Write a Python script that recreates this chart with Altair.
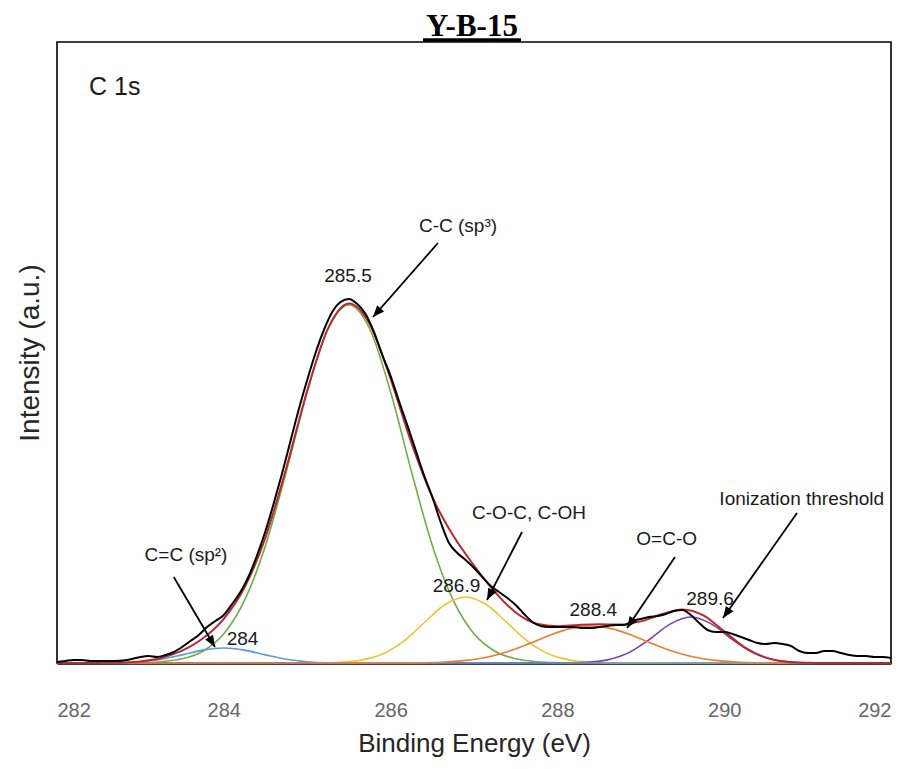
import math
import altair as alt
import pandas as pd

# ---------------- axes ----------------
X_DOMAIN = [282, 292]
Y_DOMAIN = [0, 621]
x_ticks = [282, 284, 286, 288, 290, 292]
W, H = 834, 621

# ---------------- measured spectrum (black) ----------------
raw_x = [round(282 + 0.1 * i, 1) for i in range(101)]
raw_y = [1, 2, 3, 3, 2, 2, 2, 2, 2.5, 4,
         6, 7, 6, 8, 11, 16, 22, 28, 36, 42,
         48, 59, 71, 87, 108, 132, 160, 190, 222, 254,
         283, 310, 333, 351, 361, 364, 359, 349, 331, 308,
         287, 262, 238, 213, 188, 166, 141, 120, 110, 103,
         95, 86, 77, 71, 65, 58, 49, 41, 37, 36,
         36, 36, 36, 35, 35, 36, 37, 38, 38, 42,
         44, 46, 47, 49, 52, 53, 48, 40, 33, 31,
         31, 29, 26, 23, 20, 19, 20, 19, 17, 12,
         10, 10, 12, 12, 10, 8, 7, 7, 6, 6, 5]

# ---------------- fitted envelope (red) ----------------
env_x = [282.0, 282.25, 282.5, 282.75, 283.0, 283.25, 283.5, 283.75, 284.0, 284.25,
         284.5, 284.75, 285.0, 285.25, 285.5, 285.75, 286.0, 286.25, 286.5, 286.75,
         287.0, 287.25, 287.5, 287.75, 288.0, 288.25, 288.5, 288.75, 289.0, 289.25,
         289.5, 289.75, 290.0, 290.25, 290.5, 290.75, 291.0, 291.25, 291.5, 291.75, 292.0]
env_y = [0, 0, 0.1, 0.3, 1.6, 5.0, 12.3, 24.7, 44.2, 75.7,
         125.7, 195.2, 272.3, 334.6, 359.4, 338.7, 284.1, 220.1, 166.0, 127.4,
         97.5, 71.2, 50.5, 39.3, 36.8, 38.0, 38.7, 38.5, 41.6, 48.7,
         53.6, 47.6, 31.7, 15.3, 5.4, 1.3, 0.2, 0, 0, 0, 0]

# ---------------- fitted components ----------------
blue_x = [282.0, 282.5, 282.75, 283.0, 283.25, 283.5, 283.75, 284.0, 284.25, 284.5,
          284.75, 285.0, 285.25, 285.5, 292.0]
blue_y = [0, 0.1, 0.3, 1.3, 3.7, 8.1, 12.9, 15, 12.9, 8.1, 3.7, 1.3, 0.3, 0.1, 0]

green_x = [282.0, 282.75, 283.0, 283.25, 283.5, 283.75, 284.0, 284.25, 284.5, 284.75,
           285.0, 285.25, 285.5, 285.75, 286.0, 286.25, 286.5, 286.75, 287.0, 287.25,
           287.5, 287.75, 288.0, 288.25, 292.0]
green_y = [0, 0, 0.3, 1.3, 4.2, 11.8, 29.2, 62.8, 117.6, 191.5,
           271, 334, 358, 334, 271, 191.5, 117.6, 62.8, 29.2, 11.8,
           4.2, 1.3, 0.3, 0, 0]

yellow_x = [282.0, 285.15, 285.4, 285.65, 285.9, 286.15, 286.4, 286.65, 286.9, 287.15,
            287.4, 287.65, 287.9, 288.15, 288.4, 288.65, 292.0]
yellow_y = [0, 0.1, 0.7, 2.9, 8.9, 21.4, 40.0, 58.2, 66, 58.2,
            40.0, 21.4, 8.9, 2.9, 0.7, 0.1, 0]

orange_x = [282.0, 286.15, 286.4, 286.65, 286.9, 287.15, 287.4, 287.65, 287.9, 288.15,
            288.4, 288.65, 288.9, 289.15, 289.4, 289.65, 289.9, 290.15, 290.4, 290.65, 292.0]
orange_y = [0, 0.1, 0.3, 1.0, 2.6, 5.8, 11.3, 19.0, 27.5, 34.4,
            37, 34.4, 27.5, 19.0, 11.3, 5.8, 2.6, 1.0, 0.3, 0.1, 0]

purple_x = [282.0, 288.1, 288.35, 288.6, 288.85, 289.1, 289.35, 289.6, 289.85, 290.1,
            290.35, 290.6, 290.85, 291.1, 292.0]
purple_y = [0, 0.1, 0.7, 3.1, 10.1, 23.4, 38.9, 46, 38.9, 23.4, 10.1, 3.1, 0.7, 0.1, 0]

series_names = ["C=C", "C-C", "C-O-C", "O=C-O", "289.6", "envelope", "raw"]
series_colors = ["#5B9BD5", "#70AD47", "#F2C234", "#ED7D31", "#7B3FB0", "#B7282E", "#000000"]

# ---------------- annotations ----------------
label_text = ["C-C (sp³)", "285.5", "C=C (sp²)", "284", "C-O-C, C-OH", "286.9",
              "O=C-O", "288.4", "Ionization threshold", "289.6"]
label_x = [286.808, 285.489, 283.547, 284.224, 287.66, 286.79, 289.31, 288.43, 290.93, 289.83]
label_y = [431, 381, 102, 18, 144, 71, 118, 47, 158, 58]

arrow_x1 = [286.568, 283.400, 287.576, 289.410, 290.873]
arrow_y1 = [420, 86, 131, 106, 150]
arrow_x2 = [285.789, 283.894, 287.156, 288.835, 289.986]
arrow_y2 = [346, 16, 63, 35, 45]

title_text = "Y-B-15"
title_x, title_y = 286.976, 627
underline_x = [286.389, 287.564]
underline_y = 623
panel_text = "C 1s"
panel_x, panel_y = 282.384, 568

# ---------------- build tables ----------------
frames = []
for name, xs_, ys_ in [("C-C", green_x, green_y), ("C-O-C", yellow_x, yellow_y),
                       ("289.6", purple_x, purple_y), ("C=C", blue_x, blue_y),
                       ("O=C-O", orange_x, orange_y)]:
    frames.append(pd.DataFrame({"x": xs_, "y": ys_, "series": name}))
comp_df = pd.concat(frames, ignore_index=True)
env_df = pd.DataFrame({"x": env_x, "y": env_y, "series": "envelope"})
raw_df = pd.DataFrame({"x": raw_x, "y": raw_y, "series": "raw"})

px_per_x = W / (X_DOMAIN[1] - X_DOMAIN[0])
px_per_y = H / (Y_DOMAIN[1] - Y_DOMAIN[0])
angles = []
for a, b, c, d in zip(arrow_x1, arrow_y1, arrow_x2, arrow_y2):
    dx = (c - a) * px_per_x
    dy = -(d - b) * px_per_y
    angles.append(math.degrees(math.atan2(dx, -dy)) % 360)
arrow_df = pd.DataFrame({"x1": arrow_x1, "y1": arrow_y1, "x2": arrow_x2,
                         "y2": arrow_y2, "angle": angles})
label_df = pd.DataFrame({"x": label_x, "y": label_y, "label": label_text})
title_df = pd.DataFrame({"x": [title_x], "y": [title_y], "label": [title_text]})
uline_df = pd.DataFrame({"x": [underline_x[0]], "x2": [underline_x[1]], "y": [underline_y]})
panel_df = pd.DataFrame({"x": [panel_x], "y": [panel_y], "label": [panel_text]})

xs = alt.Scale(domain=X_DOMAIN, nice=False, zero=False)
ys = alt.Scale(domain=Y_DOMAIN, nice=False, zero=False)
color = alt.Color("series:N", scale=alt.Scale(domain=series_names, range=series_colors), legend=None)

x_enc = alt.X("x:Q", scale=xs, title="Binding Energy (eV)",
              axis=alt.Axis(values=x_ticks, format="d", grid=False, ticks=False,
                            domainColor="#000000", domainWidth=2.5,
                            labelFont="Liberation Sans", labelFontSize=20, labelColor="#666666",
                            labelPadding=37, titleFont="Liberation Sans", titleFontSize=26,
                            titleFontWeight="normal", titleColor="#262626", titlePadding=10))
y_enc = alt.Y("y:Q", scale=ys, title="Intensity (a.u.)",
              axis=alt.Axis(labels=False, ticks=False, domain=False, grid=False,
                            titleFont="Liberation Sans", titleFontSize=28,
                            titleFontWeight="normal", titleColor="#262626", titlePadding=13))

comp = alt.Chart(comp_df).mark_line(strokeWidth=1.6, interpolate="monotone").encode(
    x=x_enc, y=y_enc, color=color, detail="series:N")
env = alt.Chart(env_df).mark_line(strokeWidth=2, interpolate="monotone").encode(
    x=alt.X("x:Q", scale=xs), y=alt.Y("y:Q", scale=ys), color=color)
raw = alt.Chart(raw_df).mark_line(strokeWidth=2, interpolate="monotone").encode(
    x=alt.X("x:Q", scale=xs), y=alt.Y("y:Q", scale=ys), color=color)

rules = alt.Chart(arrow_df).mark_rule(color="#000000", strokeWidth=1.8).encode(
    x=alt.X("x1:Q", scale=xs), y=alt.Y("y1:Q", scale=ys), x2="x2:Q", y2="y2:Q")
heads = alt.Chart(arrow_df).mark_point(
    shape="M0,0 L0.4,1 L-0.4,1 Z", filled=True, color="#000000", opacity=1, size=530,
    strokeWidth=0).encode(
    x=alt.X("x2:Q", scale=xs), y=alt.Y("y2:Q", scale=ys), angle=alt.Angle("angle:Q", scale=None))

labels = alt.Chart(label_df).mark_text(
    align="center", baseline="alphabetic", font="Liberation Sans", fontSize=19,
    color="#1a1a1a").encode(x=alt.X("x:Q", scale=xs), y=alt.Y("y:Q", scale=ys), text="label:N")
title = alt.Chart(title_df).mark_text(
    align="center", baseline="alphabetic", font="Liberation Serif", fontSize=31,
    fontWeight="bold", color="#000000").encode(
    x=alt.X("x:Q", scale=xs), y=alt.Y("y:Q", scale=ys), text="label:N")
uline = alt.Chart(uline_df).mark_rule(color="#000000", strokeWidth=3.5).encode(
    x=alt.X("x:Q", scale=xs), x2="x2:Q", y=alt.Y("y:Q", scale=ys))
panel = alt.Chart(panel_df).mark_text(
    align="left", baseline="alphabetic", font="Liberation Sans", fontSize=25,
    color="#1a1a1a").encode(x=alt.X("x:Q", scale=xs), y=alt.Y("y:Q", scale=ys), text="label:N")

chart = alt.layer(comp, env, raw, rules, heads, labels, title, uline, panel).properties(
    width=W, height=H,
    padding={"left": 49, "top": 34, "right": 14, "bottom": 97},
    autosize=alt.AutoSizeParams(type="none"),
    background="#ffffff",
).configure_view(stroke="#000000", strokeWidth=1.6)

chart.save("out.html", embed_options={"renderer": "svg", "actions": False})
